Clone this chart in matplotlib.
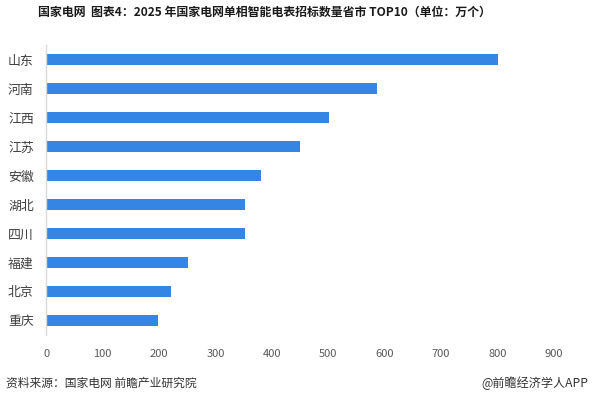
import matplotlib.pyplot as plt

plt.rcParams['font.family'] = ['Noto Sans CJK SC', 'DejaVu Sans']

provinces = ["山东", "河南", "江西", "江苏", "安徽", "湖北", "四川", "福建", "北京", "重庆"]
counts = [801, 586, 501, 450, 380, 352, 352, 251, 221, 198]
xticks = [0, 100, 200, 300, 400, 500, 600, 700, 800, 900]

title = "国家电网  图表4：2025 年国家电网单相智能电表招标数量省市 TOP10（单位：万个）"
source = "资料来源：国家电网 前瞻产业研究院"
brand = "@前瞻经济学人APP"

fig = plt.figure(figsize=(5.93, 3.95), dpi=100)
ax = fig.add_axes([0.078, 0.152, 0.856, 0.734])

pos = list(range(len(provinces)))
ax.barh(pos, counts, height=0.35, color="#3585e5")
ax.set_ylim(len(provinces) - 0.5, -0.5)
ax.set_xlim(0, 900)
ax.set_yticks(pos)
ax.set_yticklabels(provinces, fontsize=9.3, color="#404040")
ax.tick_params(axis="both", length=0)
ax.set_xticks(xticks)
ax.set_xticklabels([str(t) for t in xticks], fontsize=8, color="#595959")
ax.tick_params(axis="y", pad=9)
ax.tick_params(axis="x", pad=10)

for s in ["top", "right", "bottom"]:
    ax.spines[s].set_visible(False)
ax.spines["left"].set_color("#d9d9d9")
ax.spines["left"].set_linewidth(1)

fig.text(0.064, 0.97, title, fontsize=8.6, fontweight="bold", color="#1a1a1a",
         ha="left", va="center")
fig.text(0.01, 0.03, source, fontsize=8.5, color="#333333", ha="left", va="center")
fig.text(0.992, 0.03, brand, fontsize=8.7, color="#333333", ha="right", va="center")

fig.savefig("out.png", dpi=100)
